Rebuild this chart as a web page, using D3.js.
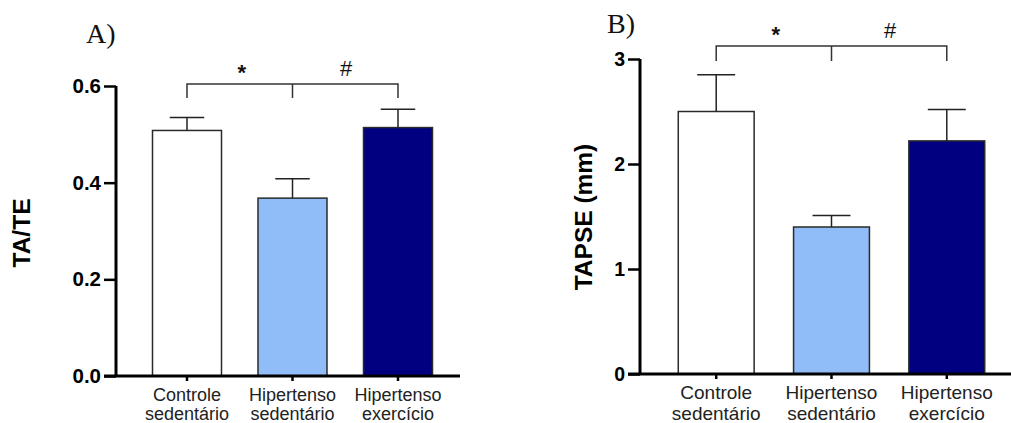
<!DOCTYPE html>
<html>
<head>
<meta charset="utf-8">
<script src="https://cdn.jsdelivr.net/npm/d3@7"></script>
<style>
  body { margin: 0; background: #fff; }
  svg { display: block; }
</style>
</head>
<body>
<div id="chart"></div>
<script>
const groups = ["Controle sedentário", "Hipertenso sedentário", "Hipertenso exercício"];
const colors = ["#ffffff", "#90bdf7", "#000080"];

// panel A
const tateMean = [0.508, 0.368, 0.514];
const tateErr = [0.027, 0.040, 0.038];
const tateTicks = [0, 0.2, 0.4, 0.6];

// panel B
const tapseMean = [2.50, 1.40, 2.22];
const tapseErr = [0.35, 0.11, 0.30];
const tapseTicks = [0, 1, 2, 3];

const W = 1011, H = 423;
const svg = d3.select("#chart").append("svg")
    .attr("width", W)
    .attr("height", H);

const font = "Arial, 'Liberation Sans', sans-serif";

function panel(opts) {
    const g = svg.append("g");

    const x = d3.scaleBand()
        .domain(groups)
        .range([opts.x0, opts.x1])
        .paddingInner(opts.padIn)
        .paddingOuter(opts.padOut);

    const y = d3.scaleLinear()
        .domain(opts.domain)
        .range([opts.y0, opts.y1]);

    // bars
    g.selectAll("rect.bar")
        .data(opts.mean)
        .enter()
        .append("rect")
        .attr("class", "bar")
        .attr("x", (d, i) => x(groups[i]))
        .attr("y", d => y(d))
        .attr("width", x.bandwidth())
        .attr("height", d => y(0) - y(d))
        .attr("fill", (d, i) => colors[i])
        .attr("stroke", "#2a2a2a")
        .attr("stroke-width", 1.5);

    // error bars (upper only)
    const cap = x.bandwidth() * 0.25;
    opts.mean.forEach((m, i) => {
        const cx = x(groups[i]) + x.bandwidth() / 2;
        g.append("line")
            .attr("x1", cx).attr("x2", cx)
            .attr("y1", y(m)).attr("y2", y(m + opts.err[i]))
            .attr("stroke", "#222").attr("stroke-width", 1.5);
        g.append("line")
            .attr("x1", cx - cap).attr("x2", cx + cap)
            .attr("y1", y(m + opts.err[i])).attr("y2", y(m + opts.err[i]))
            .attr("stroke", "#222").attr("stroke-width", 1.5);
    });

    // y axis
    const yAxis = g.append("g")
        .attr("transform", `translate(${opts.x0},0)`)
        .call(d3.axisLeft(y).tickValues(opts.ticks).tickFormat(opts.fmt).tickSize(12).tickPadding(3));
    yAxis.select(".domain").attr("stroke", "#000").attr("stroke-width", 3)
        .attr("d", `M0,${opts.y0}V${opts.y1}`);
    yAxis.selectAll(".tick line").attr("stroke", "#000").attr("stroke-width", 2.5);
    yAxis.selectAll(".tick text")
        .attr("font-family", font)
        .attr("font-size", opts.tickSize).attr("font-weight", "bold").attr("fill", "#000");

    // x axis
    const xAxis = g.append("g")
        .attr("transform", `translate(0,${opts.y0})`)
        .call(d3.axisBottom(x).tickSize(5).tickFormat(""));
    xAxis.select(".domain").attr("stroke", "#000").attr("stroke-width", 3)
        .attr("d", `M${opts.x0 - 12},0H${opts.xEnd}`);
    xAxis.selectAll(".tick line").attr("stroke", "#000").attr("stroke-width", 2.5);

    // category labels, two lines each
    groups.forEach(name => {
        const cx = x(name) + x.bandwidth() / 2;
        const parts = name.split(" ");
        const t = g.append("text")
            .attr("x", cx)
            .attr("y", opts.y0 + 25)
            .attr("text-anchor", "middle")
            .attr("font-family", font)
            .attr("font-size", opts.catSize)
            .attr("fill", "#222");
        parts.forEach((p, k) => {
            t.append("tspan").attr("x", cx).attr("dy", k === 0 ? 0 : opts.catSize * 1.08).text(p);
        });
    });

    // y title
    g.append("text")
        .attr("transform", `translate(${opts.titleX},${opts.titleY}) rotate(-90)`)
        .attr("text-anchor", "middle")
        .attr("dominant-baseline", "middle")
        .attr("font-family", font)
        .attr("font-weight", "bold")
        .attr("font-size", 24.5)
        .attr("fill", "#000")
        .text(opts.title);

    // panel letter
    g.append("text")
        .attr("x", opts.letterX)
        .attr("y", opts.letterY)
        .attr("font-family", "'Liberation Serif', 'Times New Roman', serif")
        .attr("font-size", 28)
        .attr("fill", "#111")
        .text(opts.letter);

    // significance bracket
    const c = groups.map(n => x(n) + x.bandwidth() / 2);
    const by = opts.bracketY, bt = opts.bracketY + opts.bracketDrop;
    g.append("path")
        .attr("d", `M${c[0]},${bt}V${by}H${c[2]}V${bt}M${c[1]},${by}V${bt}`)
        .attr("fill", "none")
        .attr("stroke", "#333")
        .attr("stroke-width", 1.5);
    g.append("text")
        .attr("x", (c[0] + c[1]) / 2 + 2)
        .attr("y", opts.bracketY - 4)
        .attr("text-anchor", "middle")
        .attr("font-family", font)
        .attr("font-weight", "bold")
        .attr("font-size", 22)
        .attr("fill", "#111")
        .text("*");
    g.append("text")
        .attr("x", (c[1] + c[2]) / 2 + 1)
        .attr("y", opts.bracketY - 8)
        .attr("text-anchor", "middle")
        .attr("font-family", font)
        .attr("font-size", 22)
        .attr("fill", "#111")
        .text("#");
}

panel({
    x0: 116, x1: 469, xEnd: 460, padIn: 0.346, padOut: 0.346,
    y0: 376, y1: 86, domain: [0, 0.6],
    mean: tateMean, err: tateErr, ticks: tateTicks, fmt: d3.format(".1f"),
    tickSize: 20.5, catSize: 18,
    title: "TA/TE", titleX: 24, titleY: 233,
    letter: "A)", letterX: 86, letterY: 43,
    bracketY: 84, bracketDrop: 14
});

panel({
    x0: 640, x1: 1023, xEnd: 1011, padIn: 0.342, padOut: 0.332,
    y0: 374, y1: 59, domain: [0, 3],
    mean: tapseMean, err: tapseErr, ticks: tapseTicks, fmt: d3.format("d"),
    tickSize: 19.5, catSize: 19,
    title: "TAPSE (mm)", titleX: 586, titleY: 217,
    letter: "B)", letterX: 607, letterY: 33,
    bracketY: 46, bracketDrop: 15
});
</script>
</body>
</html>
